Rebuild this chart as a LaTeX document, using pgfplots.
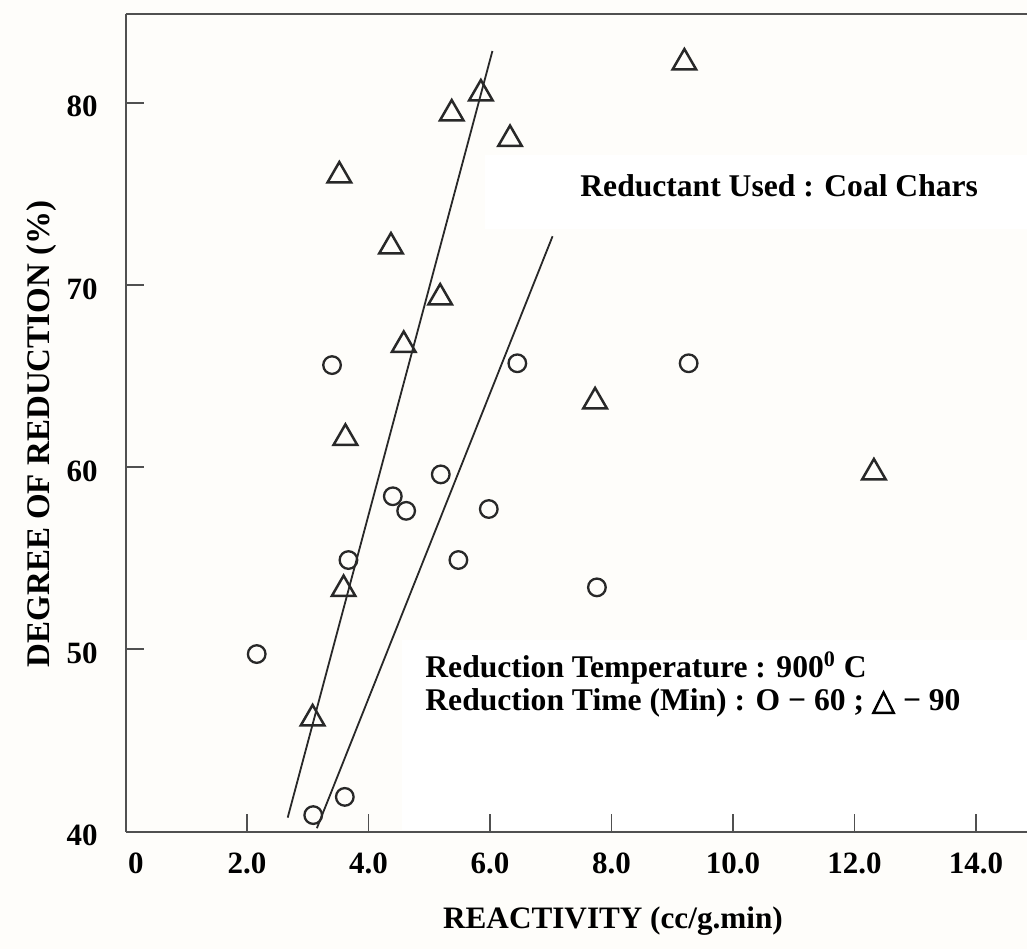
\documentclass[border=0pt]{standalone}
\usepackage{pgfplots}
\pgfplotsset{compat=1.18}
\usepackage{fontspec}
\setmainfont{Liberation Serif}
\newfontface\symfont{DejaVu Sans}[FakeBold=3]
\definecolor{bgcream}{RGB}{254,253,250}
\definecolor{ink}{RGB}{40,40,40}
\definecolor{axisgray}{RGB}{80,80,80}
\pgfplotstableread{
x y
2.16 49.74
3.09 40.90
3.61 41.90
3.67 54.90
3.40 65.60
4.40 58.40
4.62 57.60
5.19 59.60
5.48 54.90
5.98 57.70
6.45 65.70
7.76 53.40
9.27 65.70
}\sixty
\pgfplotstableread{
x y
3.08 46.2
3.59 53.3
3.62 61.6
3.52 76.0
4.37 72.1
4.58 66.7
5.18 69.3
5.37 79.4
5.85 80.5
6.33 78.0
7.73 63.6
9.20 82.2
12.32 59.7
}\ninety
\begin{document}
\begin{tikzpicture}[x=1pt,y=1pt]
\fill[bgcream] (-62.75,-58.75) rectangle (450.75,415.75);
\fill[white] (179.75,301.25) rectangle (450.75,338.25);
\fill[white] (138.25,1) rectangle (450.75,95.75);
\begin{axis}[
  at={(0,0)}, anchor=south west,
  scale only axis, width=450.75pt, height=408.75pt,
  xmin=0, xmax=14.84, ymin=40, ymax=84.87,
  clip=false,
  axis x line*=bottom, axis y line*=left,
  axis line style={axisgray, line width=1pt, -},
  xtick={2,4,...,14}, xticklabels={2.0,4.0,6.0,8.0,10.0,12.0,14.0},
  extra x ticks={0.17}, extra x tick labels={0},
  extra x tick style={major tick length=0pt},
  ytick={40,50,60,70,80}, yticklabels={40,50,60,70,80},
  tick align=inside, major tick length=9pt,
  tick style={axisgray, line width=0.9pt},
  xticklabel style={font=\fontsize{15.5}{18}\selectfont\bfseries, inner sep=0pt, anchor=north, yshift=-10.25pt},
  yticklabel style={font=\fontsize{15.5}{18}\selectfont\bfseries, inner sep=0pt, anchor=east, xshift=-13.75pt, yshift=-2pt},
]
\draw[axisgray, line width=1pt] (rel axis cs:0,1) -- (rel axis cs:1,1);
\addplot[ink, line width=0.9pt] coordinates {(2.67,40.76) (6.04,82.84)};
\addplot[ink, line width=0.9pt] coordinates {(3.15,40.18) (7.03,72.67)};
\addplot[only marks, mark=o, mark size=4.4pt, mark options={ink, line width=1.15pt}] table[x=x,y=y] {\sixty};
\addplot[only marks, mark=triangle, mark size=6.8pt, mark options={ink, line width=1.25pt}] table[x=x,y=y] {\ninety};
\end{axis}
\node[anchor=base west, inner sep=0pt, font=\fontsize{15.8}{18}\selectfont\bfseries] at (227.25,317.45) {Reductant Used : Coal Chars};
\node[anchor=base west, inner sep=0pt, font=\fontsize{15.8}{18}\selectfont\bfseries] at (149.75,77.25) {Reduction Temperature : 900\textsuperscript{0} C};
\node[anchor=base west, inner sep=0pt, font=\fontsize{15.8}{18}\selectfont\bfseries] at (149.75,60.75) {Reduction Time (Min) : O − 60 ; {\symfont\fontsize{15}{18}\selectfont △} − 90};
\node[anchor=base, inner sep=0pt, font=\fontsize{15.6}{18}\selectfont\bfseries] at (243.75,-48.25) {REACTIVITY (cc/g.min)};
\node[rotate=90, anchor=center, inner sep=0pt, font=\fontsize{16.5}{18}\selectfont\bfseries] at (-41.75,198.75) {DEGREE OF REDUCTION (\%)};
\pgfresetboundingbox
\useasboundingbox (-62.75,-58.75) rectangle (450.75,415.75);
\end{tikzpicture}
\end{document}
